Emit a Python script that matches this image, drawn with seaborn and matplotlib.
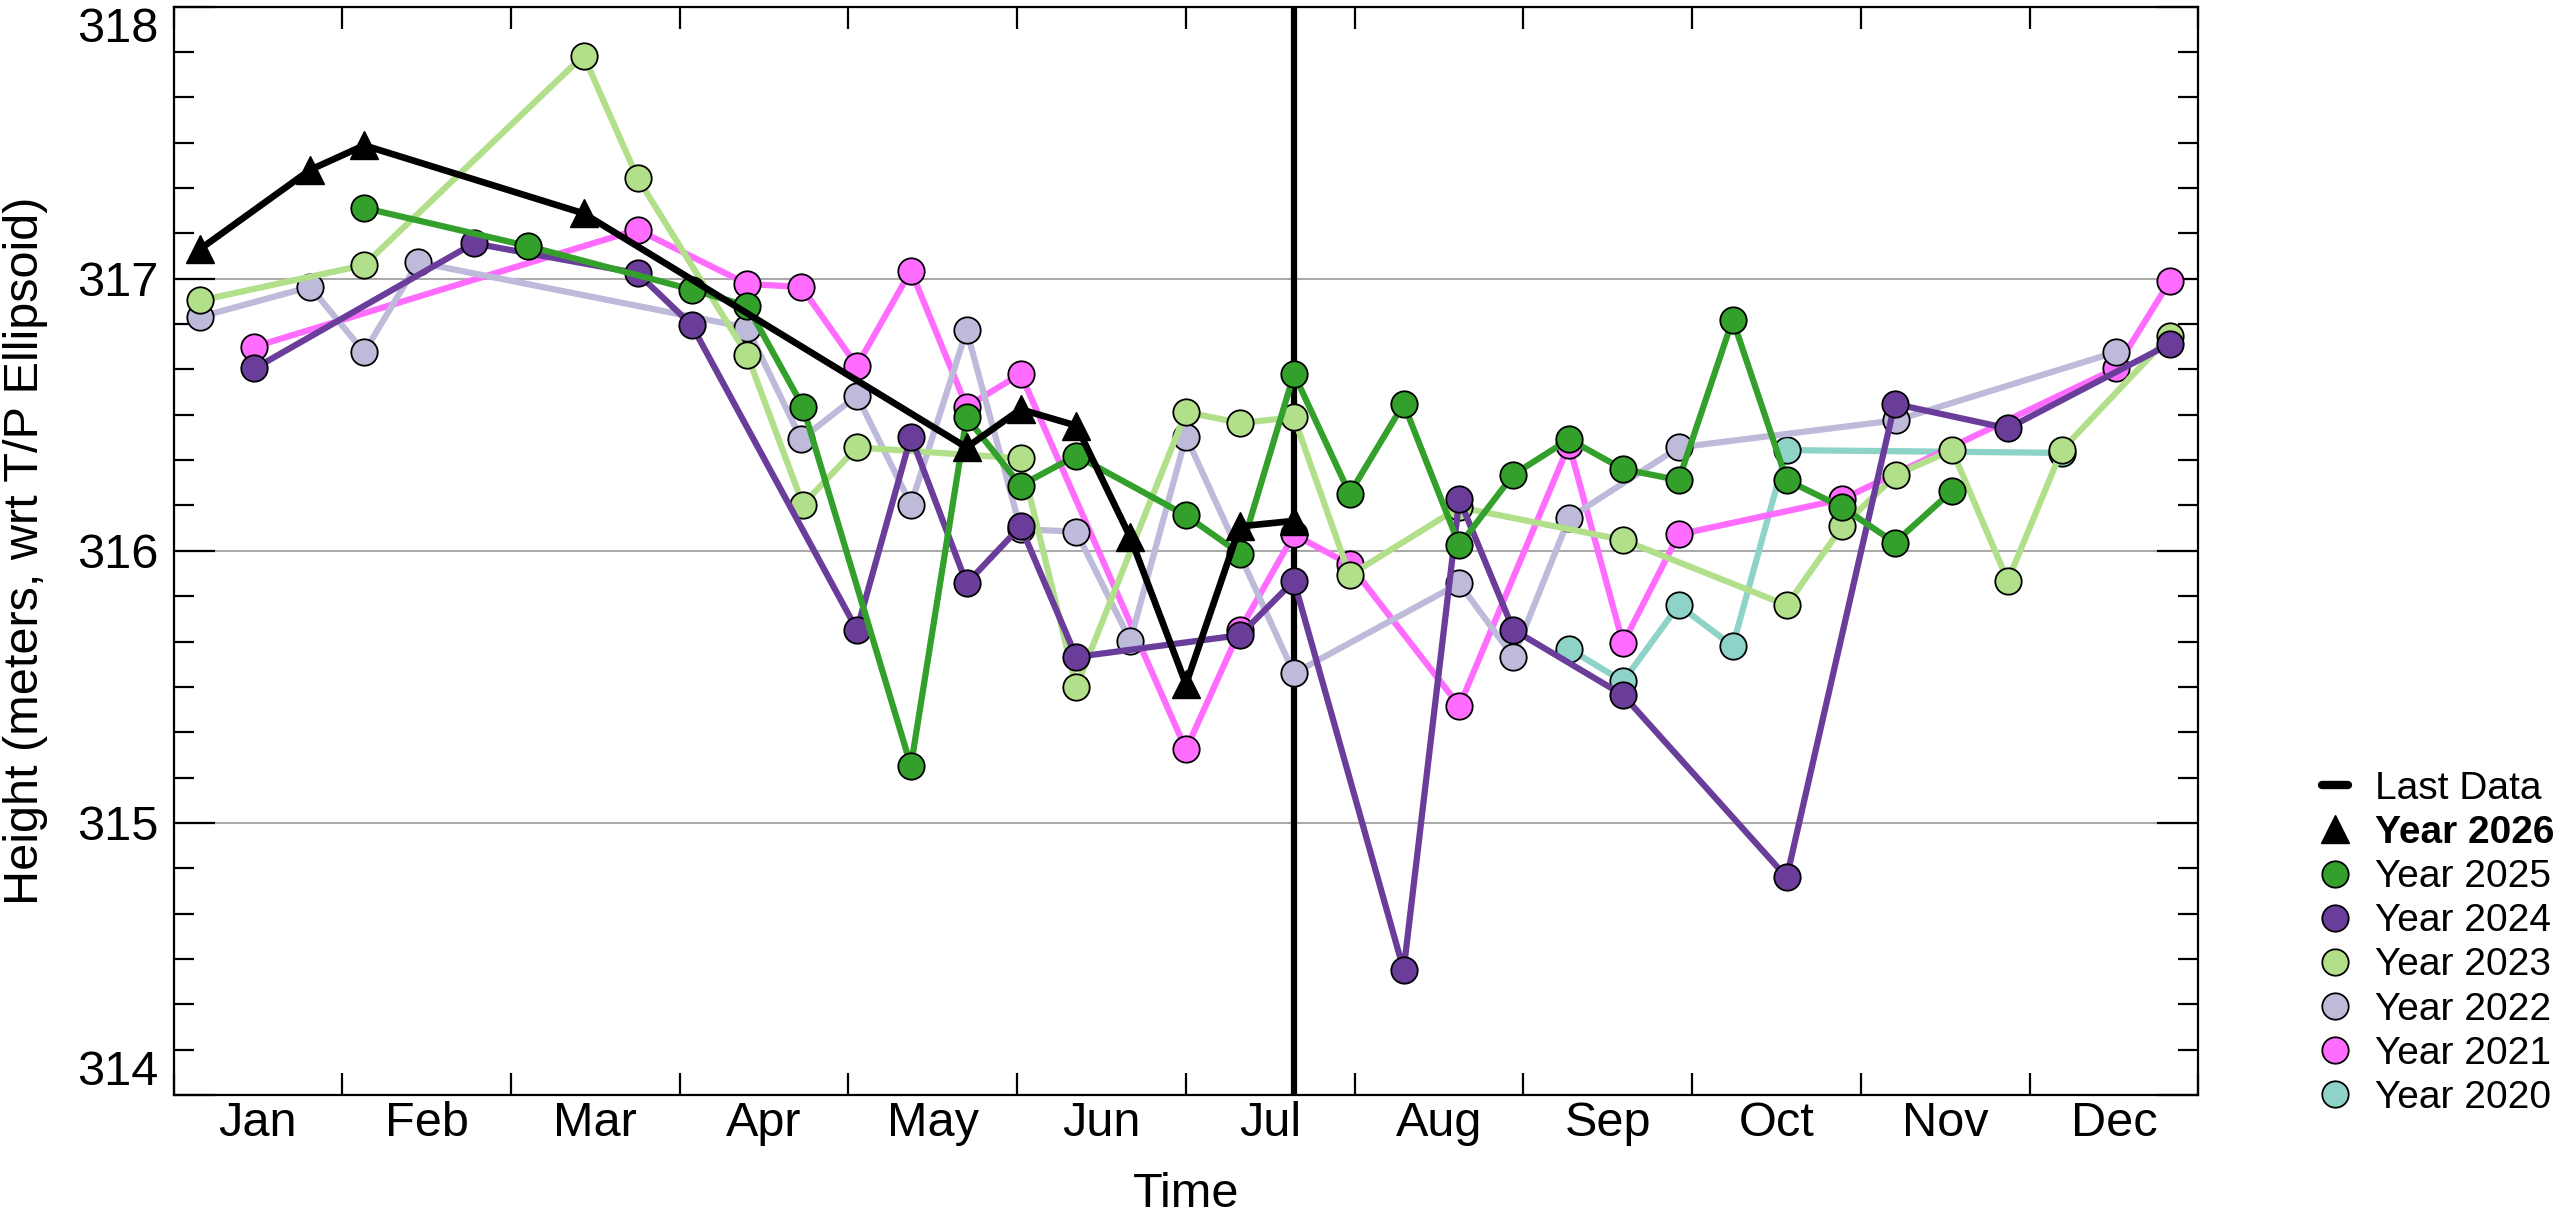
import matplotlib
matplotlib.use('Agg')
import matplotlib.pyplot as plt
from matplotlib.ticker import MultipleLocator
import numpy as np
import pandas as pd
import seaborn as sns

# x positions are fractional months (0 = start of Jan)
months = ['Jan', 'Feb', 'Mar', 'Apr', 'May', 'Jun',
          'Jul', 'Aug', 'Sep', 'Oct', 'Nov', 'Dec']
last_data = 6.64

x_2026 = [0.16, 0.81, 1.13, 2.43, 4.70, 5.02, 5.35, 5.67, 6.00, 6.32, 6.64]
y_2026 = [317.11, 317.40, 317.49, 317.24, 316.38, 316.52, 316.46, 316.05, 315.51, 316.09, 316.11]

x_2025 = [1.13, 2.10, 3.07, 3.40, 3.73, 4.37, 4.70, 5.02, 5.35, 6.00, 6.32, 6.64,
          6.97, 7.29, 7.62, 7.94, 8.27, 8.59, 8.92, 9.24, 9.56, 9.89, 10.20, 10.54]
y_2025 = [317.26, 317.12, 316.96, 316.90, 316.53, 315.21, 316.49, 316.24, 316.35, 316.13, 315.99, 316.65,
          316.21, 316.54, 316.02, 316.28, 316.41, 316.30, 316.26, 316.85, 316.26, 316.16, 316.03, 316.22]

x_2024 = [0.48, 1.78, 2.75, 3.07, 4.05, 4.37, 4.70, 5.02, 5.35, 6.32, 6.64,
          7.29, 7.62, 7.94, 8.59, 9.56, 10.20, 10.87, 11.83]
y_2024 = [316.67, 317.13, 317.02, 316.83, 315.71, 316.42, 315.88, 316.09, 315.61, 315.69, 315.89,
          314.46, 316.19, 315.71, 315.47, 314.80, 316.54, 316.45, 316.76]

x_2023 = [0.16, 1.13, 2.43, 2.75, 3.40, 3.73, 4.05, 5.02, 5.35, 6.00, 6.32, 6.64,
          6.97, 7.62, 8.59, 9.56, 9.89, 10.21, 10.54, 10.87, 11.19, 11.83]
y_2023 = [316.92, 317.05, 317.82, 317.37, 316.72, 316.17, 316.38, 316.34, 315.50, 316.51, 316.47, 316.49,
          315.91, 316.16, 316.04, 315.80, 316.09, 316.28, 316.37, 315.89, 316.37, 316.79]

x_2022 = [0.16, 0.81, 1.13, 1.45, 3.40, 3.72, 4.05, 4.37, 4.70, 5.02, 5.35, 5.67, 6.00, 6.64,
          7.62, 7.94, 8.27, 8.92, 10.21, 11.51]
y_2022 = [316.86, 316.97, 316.73, 317.06, 316.82, 316.41, 316.57, 316.17, 316.81, 316.08, 316.07, 315.67, 316.42, 315.55,
          315.88, 315.61, 316.12, 316.38, 316.48, 316.73]

x_2021 = [0.48, 2.75, 3.40, 3.72, 4.05, 4.37, 4.70, 5.02, 6.00, 6.32, 6.64,
          6.97, 7.62, 8.27, 8.59, 8.92, 9.89, 11.51, 11.83]
y_2021 = [316.75, 317.18, 316.98, 316.97, 316.68, 317.03, 316.53, 316.65, 315.27, 315.71, 316.06,
          315.95, 315.43, 316.39, 315.66, 316.06, 316.19, 316.67, 316.99]

x_2020 = [8.27, 8.59, 8.92, 9.24, 9.56, 11.19]
y_2020 = [315.64, 315.52, 315.80, 315.65, 316.37, 316.36]

# drawing order (bottom to top)
series = [
    ('Year 2020', x_2020, y_2020, '#8dd3c7'),
    ('Year 2021', x_2021, y_2021, '#ff6cff'),
    ('Year 2022', x_2022, y_2022, '#bebada'),
    ('Year 2023', x_2023, y_2023, '#b2df8a'),
    ('Year 2024', x_2024, y_2024, '#6a3d9a'),
    ('Year 2025', x_2025, y_2025, '#33a02c'),
]

sns.set_theme(style='white')
plt.rcParams['font.family'] = ['Liberation Sans', 'DejaVu Sans']

fig = plt.figure(figsize=(25.59, 12.13), dpi=100)
ax = fig.add_axes([0.0678, 0.0972, 0.7913, 0.8974])

ax.axvline(last_data, color='black', linewidth=4.5, label='Last Data', zorder=1.5)

for name, xs, ys, col in series:
    df = pd.DataFrame({'month': xs, 'height': ys})
    sns.lineplot(data=df, x='month', y='height', ax=ax, color=col, linewidth=4.5,
                 marker='o', markersize=19, markeredgecolor='black',
                 markeredgewidth=1.3, label=name)

df26 = pd.DataFrame({'month': x_2026, 'height': y_2026})
sns.lineplot(data=df26, x='month', y='height', ax=ax, color='black', linewidth=4.8,
             marker='^', markersize=20, markeredgecolor='black',
             markeredgewidth=1.0, label='Year 2026')

ax.set_xlim(0, 12)
ax.set_ylim(314, 318)

# x: ticks on month boundaries, labels centred in months
ax.set_xticks(range(13))
ax.set_xticklabels([])
ax.set_xticks(np.arange(0.5, 12, 1), minor=True)
ax.set_xticklabels(months, minor=True)
ax.tick_params(axis='x', which='major', direction='in', length=16, width=1.6,
               top=True, bottom=True, color='black')
ax.tick_params(axis='x', which='minor', length=0, labelsize=35, pad=4, colors='black')

ax.set_yticks([314, 315, 316, 317, 318])
ax.yaxis.set_minor_locator(MultipleLocator(1 / 6))
ax.tick_params(axis='y', which='major', direction='in', length=29.5, width=1.6,
               left=True, right=True, labelsize=35, pad=11, color='black', labelcolor='black')
ax.tick_params(axis='y', which='minor', direction='in', length=14.5, width=1.6,
               left=True, right=True, color='black')
ylabels = ax.get_yticklabels()
ylabels[0].set_va('bottom')
ylabels[-1].set_va('top')

ax.yaxis.grid(True, which='major', color='#aaaaaa', linewidth=1.5)
ax.xaxis.grid(False)
for sp in ax.spines.values():
    sp.set_color('black')
    sp.set_linewidth(1.6)

ax.set_xlabel('Time', fontsize=35, labelpad=19, color='black')
ax.set_ylabel('Height (meters, wrt T/P Ellipsoid)', fontsize=35, labelpad=21, color='black')

handles, labels = ax.get_legend_handles_labels()
lookup = dict(zip(labels, handles))
order = ['Last Data', 'Year 2026', 'Year 2025', 'Year 2024', 'Year 2023',
         'Year 2022', 'Year 2021', 'Year 2020']
leg = ax.legend([lookup[k] for k in order], order, loc='lower left',
                bbox_to_anchor=(0.9075, 0.080), bbox_transform=fig.transFigure,
                frameon=False, fontsize=28, handlelength=0.65, handletextpad=0.7,
                labelspacing=0.21, borderpad=0, borderaxespad=0)
for t in leg.get_texts():
    t.set_color('black')
leg.get_texts()[1].set_fontweight('bold')
for h in leg.legend_handles[1:]:
    h.set_linestyle('None')
leg.legend_handles[0].set_linewidth(6)

fig.savefig('out.png', dpi=100, facecolor='white')
